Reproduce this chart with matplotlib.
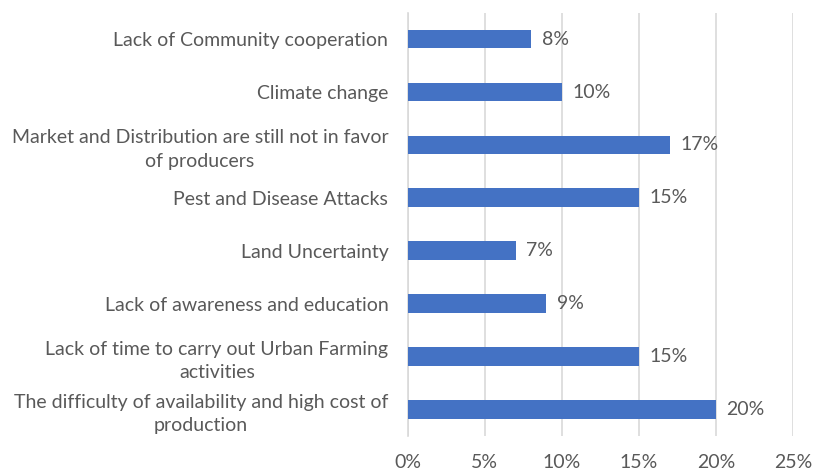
import matplotlib.pyplot as plt
import numpy as np

# categories top to bottom as in the chart
categories = [
    "Lack of Community cooperation",
    "Climate change",
    "Market and Distribution are still not in favor\nof producers",
    "Pest and Disease Attacks",
    "Land Uncertainty",
    "Lack of awareness and education",
    "Lack of time to carry out Urban Farming\nactivities",
    "The difficulty of availability and high cost of\nproduction",
]
values = [8, 10, 17, 15, 7, 9, 15, 20]
xticks = [0, 5, 10, 15, 20, 25]
xtick_labels = [str(t) + "%" for t in xticks]

plt.rcParams['font.family'] = ['Lato', 'DejaVu Sans']
txt = '#595959'
fs = 14

fig = plt.figure(figsize=(8.14, 4.70), dpi=100)
ax = fig.add_axes([0.501, 0.073, 0.473, 0.9])

y = np.arange(len(categories))
bars = ax.barh(y, values, height=0.35, color='#4472C4', zorder=3)
for b, v in zip(bars, values):
    ax.text(v + 0.7, b.get_y() + b.get_height() / 2, str(v) + "%",
            va='center', ha='left', fontsize=fs, color=txt)

ax.set_ylim(len(categories) - 0.5, -0.5)
ax.set_yticks(y)
ax.set_yticklabels(categories, fontsize=fs, color=txt, ha='right',
                   multialignment='center', linespacing=1.45)
ax.tick_params(axis='y', length=0, pad=14)

ax.set_xlim(0, 25)
ax.set_xticks(xticks)
ax.set_xticklabels(xtick_labels, fontsize=fs, color=txt)
ax.tick_params(axis='x', length=0, pad=13)
ax.grid(axis='x', color='#D9D9D9', linewidth=1.2, zorder=0)

for s in ['top', 'right', 'bottom']:
    ax.spines[s].set_visible(False)
ax.spines['left'].set_color('#D9D9D9')
ax.spines['left'].set_linewidth(1.2)

fig.savefig('out.png', dpi=100)
